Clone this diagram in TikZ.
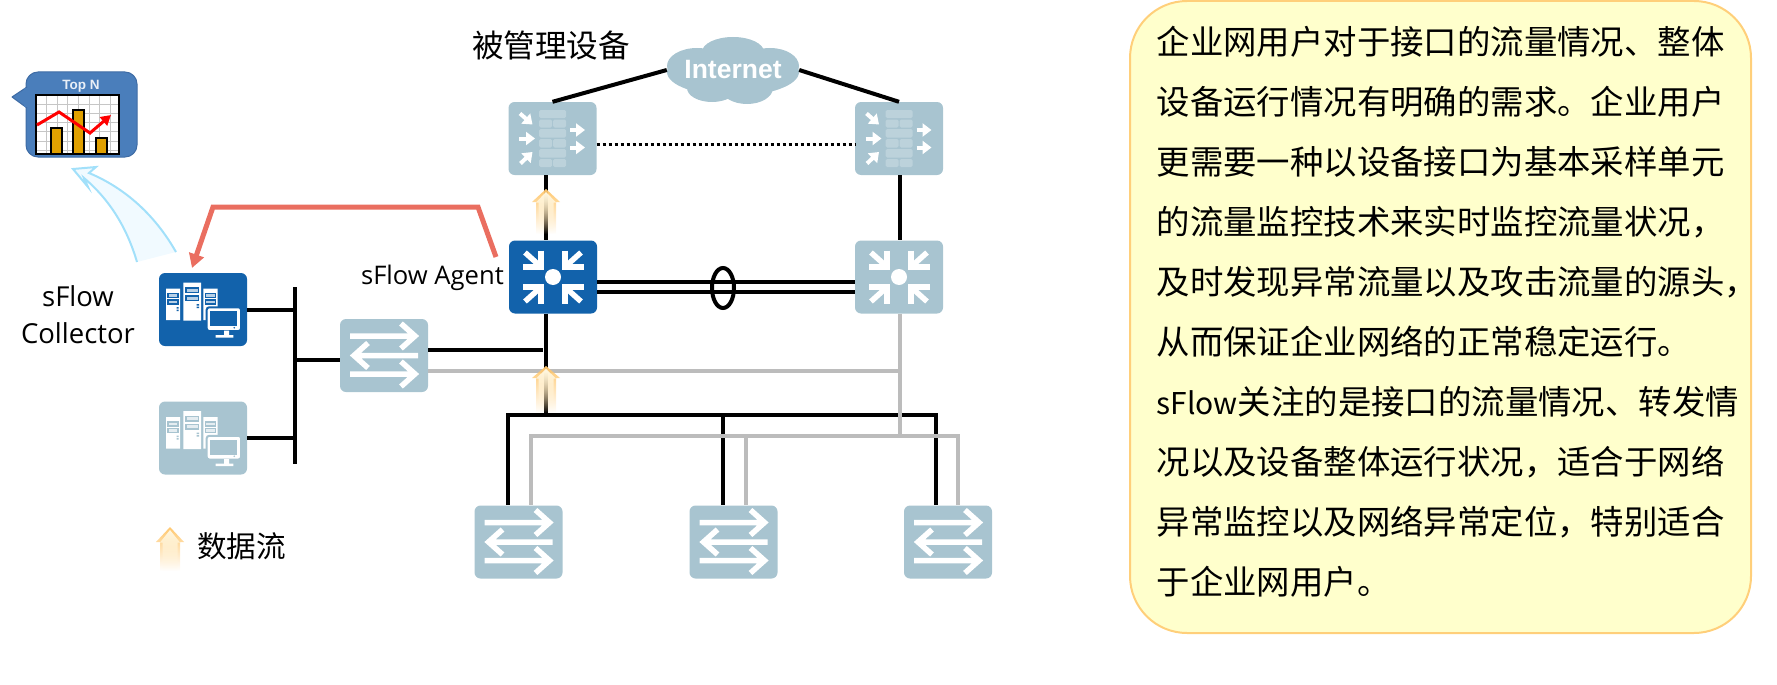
\documentclass[tikz,border=0pt]{standalone}
\usepackage{fontspec}
\setmainfont{Open Sans}
\newfontfamily\cjk{Noto Sans CJK SC}
\newfontfamily\arialb{Liberation Sans Bold}
\usetikzlibrary{arrows.meta,fadings,calc}
\definecolor{steel}{HTML}{A8C4D0}
\definecolor{brick}{HTML}{BCD2DB}
\definecolor{agentblue}{HTML}{1262AB}
\definecolor{linegray}{HTML}{BCBCBC}
\definecolor{redline}{HTML}{EA6E60}
\definecolor{skyline}{HTML}{A2E0FA}
\definecolor{skyfill}{HTML}{F1FAFF}
\definecolor{notefill}{HTML}{FFFFCC}
\definecolor{noteline}{HTML}{FFCF7A}
\definecolor{flowline}{HTML}{FFC870}
\definecolor{flowfill}{HTML}{FFF8E2}
\definecolor{bubble}{HTML}{4A7EBB}
\definecolor{bubbleline}{HTML}{3F6CA5}
\definecolor{bargold}{HTML}{E0A000}
\tikzfading[name=flowfade,top color=transparent!0,bottom color=transparent!100]
\tikzset{
  device/.style={rectangle,rounded corners=6pt,minimum width=88pt,minimum height=73pt,inner sep=0pt,fill=steel},
  agentdev/.style={device,fill=agentblue},
  blk/.style={draw=black,line width=4pt},
  gry/.style={draw=linegray,line width=3.5pt},
  iconline/.style={draw=white,line width=5.5pt,miter limit=10},
  fwarrow/.style={draw=white,line width=4pt,-{Triangle[width=13pt,length=9pt]}},
  labeltext/.style={inner sep=0pt,font=\fontsize{25.6}{30}\selectfont},
  cjktext/.style={inner sep=0pt,font=\cjk\fontsize{31.6}{34}\selectfont},
}
\newcommand{\swicon}[1]{\begin{scope}[shift={(#1.center)}]
  \draw[iconline] (-34,-19.5)--(31,-19.5) (17,-32)--(31,-19.5)--(17,-7);
  \draw[iconline] (34,0)--(-30,0) (-16,-12.5)--(-30,0)--(-16,12.5);
  \draw[iconline] (-34,18.5)--(31,18.5) (17,6)--(31,18.5)--(17,31);
\end{scope}}
\newcommand{\rticon}[1]{\begin{scope}[shift={(#1.center)}]
  \fill[white] (0,0) circle (8);
  \foreach \sx/\sy in {1/1,-1/1,1/-1,-1/-1}{
    \draw[iconline,line width=5.5pt] (\sx*12,\sy*26.5)--(\sx*12,\sy*10)--(\sx*30.5,\sy*10);
    \draw[iconline,line width=5.5pt] (\sx*28,\sy*24.5)--(\sx*13,\sy*11);
  }
\end{scope}}
\newcommand{\fwicon}[1]{\begin{scope}[shift={(#1.center)}]
  \fill[brick,rounded corners=1.5pt]
    (-13.5,-28.5) rectangle (13.5,-20.5)
    (-13.5,-19) rectangle (-0.5,-11) (0.5,-19) rectangle (13.5,-11)
    (-13.5,-9.5) rectangle (13.5,-1)
    (-13.5,0.5) rectangle (-0.5,9) (0.5,0.5) rectangle (13.5,9)
    (-13.5,10.5) rectangle (13.5,19)
    (-13.5,20.5) rectangle (-0.5,28.5) (0.5,20.5) rectangle (13.5,28.5);
  \draw[fwarrow] (-32.5,-25)--(-20,-14);
  \draw[fwarrow] (-33.5,0)--(-17.5,0);
  \draw[fwarrow] (-32,25)--(-20,13.5);
  \draw[fwarrow] (17.5,-8.5)--(32.5,-8.5);
  \draw[fwarrow] (17.5,9)--(32.5,9);
\end{scope}}
\newcommand{\srvicon}[2]{\begin{scope}[shift={(#1.center)}]
  \fill[white] (-37,-21) rectangle (-23,10.5) (-19.7,-27) rectangle (-2,11) (0.3,-21) rectangle (14.7,10.5);
  \draw[#2,line width=1.2pt,fill=white!70!#2]
    (-35,-16) rectangle (-25,-12) (-35,-9.5) rectangle (-25,-5.5)
    (-17,-21.5) rectangle (-4.5,-17) (-17,-13.5) rectangle (-4.5,-9)
    (2.5,-16) rectangle (12.5,-12) (2.5,-9.5) rectangle (12.5,-5.5);
  \fill[#2] (-26.5,-2.5) rectangle (-24.5,-1) (-26.5,0) rectangle (-24.5,1.5)
    (-6.5,-5.5) rectangle (-4,-4) (-6.5,-3) rectangle (-4,-1.5)
    (12,-2.5) rectangle (14,-1) (12,0) rectangle (14,1.5);
  \draw[#2,line width=2pt,fill=white,rounded corners=2.5pt] (3.7,-2.2) rectangle (38,21.5);
  \fill[#2] (7.3,1.8) rectangle (34.3,16.5);
  \fill[white] (21,21) rectangle (26,26) (12.7,25.5) rectangle (30.3,28.2);
  \fill[#2] (31.3,18.2) circle (0.9);
\end{scope}}
\newcommand{\flowarrow}[4]{% x, tip, head base, bottom
  \fill[flowline,path fading=flowfade] (#1,#2)--(#1+14,#3)--(#1+10,#3)--(#1+10,#4)--(#1-10,#4)--(#1-10,#3)--(#1-14,#3)--cycle;
  \fill[flowfill,path fading=flowfade] (#1,#2+3)--(#1+10,#3+0.5)--(#1+7.5,#3+0.5)--(#1+7.5,#4)--(#1-7.5,#4)--(#1-7.5,#3+0.5)--(#1-10,#3+0.5)--cycle;
}
\begin{document}
\begin{tikzpicture}[x=1pt,y=-1pt]
\useasboundingbox (0,0) rectangle (1777,685);

% devices
\node[device] (fw1) at (552.5,138.5) {};
\node[device] (fw2) at (899,138.5) {};
\node[agentdev] (core1) at (553,277) {};
\node[device] (core2) at (899,277) {};
\node[device] (sw0) at (384,355.5) {};
\node[device] (sw1) at (518.5,542) {};
\node[device] (sw2) at (733.5,542) {};
\node[device] (sw3) at (948,542) {};
\node[agentdev] (srv1) at (203,309.5) {};
\node[device] (srv2) at (203,438) {};

% cloud
\fill[steel] (733,72) ellipse (66 and 24) (733,52) ellipse (31 and 15)
  (697,66) ellipse (30 and 18) (770,66) ellipse (29 and 18)
  (712,88) ellipse (25 and 14) (747,88) ellipse (26 and 16);
\node[minimum width=132pt,minimum height=48pt,inner sep=0pt,text=white,font=\arialb\fontsize{26.5}{30}\selectfont] (inet) at (733,70) {Internet};

% anchor coordinates
\coordinate (fwdown1) at (546,0);
\coordinate (rightx) at (900,0);
\coordinate (busT) at (295,287);
\coordinate (busB) at (295,464);
\coordinate (busJ) at (295,360);
\coordinate (agentIn) at (543,350);
\coordinate (grayJ) at (900,371);
\coordinate (grayB) at (900,436);
\coordinate (treeL) at (508,415);
\coordinate (treeM) at (723,415);
\coordinate (treeR) at (936,415);
\coordinate (grayL) at (531,436);
\coordinate (grayM) at (746,436);
\coordinate (grayR) at (958,436);
\coordinate (trunkA) at (0,282);
\coordinate (trunkB) at (0,292);
\coordinate (ringC) at (723,288);
\coordinate (hbY) at (0,144);

% black links
\draw[blk] (inet.west)--(fw1.north);
\draw[blk] (inet.east)--(fw2.north);
\draw[draw=black,line width=3pt,dash pattern=on 3pt off 3pt] (fw1.east |- hbY)--(fw2.west |- hbY);
\draw[blk] (fwdown1 |- fw1.south)--(fwdown1 |- core1.north);
\draw[blk] (rightx |- fw2.south)--(rightx |- core2.north);
\draw[blk,line width=4.5pt] (core1.east |- trunkA)--(core2.west |- trunkA);
\draw[blk,line width=4.5pt] (core1.east |- trunkB)--(core2.west |- trunkB);
\draw[draw=black,line width=4pt] (ringC) ellipse (11 and 20);
\draw[blk] (busT)--(busB);
\draw[blk] (srv1.east)--(busT |- srv1.east);
\draw[blk] (srv2.east)--(busT |- srv2.east);
\draw[blk] (busJ)--(busJ -| sw0.west);
\draw[blk] (agentIn -| sw0.east)--(agentIn);
\draw[blk] (fwdown1 |- core1.south)--(fwdown1 |- treeL);
\draw[blk,line cap=rect] (treeL)--(treeR);
\draw[blk] (treeL)--(treeL |- sw1.north);
\draw[blk] (treeM)--(treeM |- sw2.north);
\draw[blk] (treeR)--(treeR |- sw3.north);

% gray links
\draw[gry] (grayJ -| sw0.east)--(grayJ);
\draw[gry] (rightx |- core2.south)--(grayB);
\draw[gry,line cap=rect] (grayL)--(grayR);
\draw[gry] (grayL)--(grayL |- sw1.north);
\draw[gry] (grayM)--(grayM |- sw2.north);
\draw[gry] (grayR)--(grayR |- sw3.north);

% icons
\fwicon{fw1}\fwicon{fw2}
\rticon{core1}\rticon{core2}
\swicon{sw0}\swicon{sw1}\swicon{sw2}\swicon{sw3}
\srvicon{srv1}{agentblue}\srvicon{srv2}{steel}

% data-flow arrows
\flowarrow{546}{189}{202}{234}
\flowarrow{546}{366}{378}{413}
\flowarrow{170}{527}{542}{571}

% Top N bubble
\fill[bubble,draw=bubbleline,line width=1pt,rounded corners=12pt] (26,72) rectangle (137,157);
\fill[bubble,draw=bubbleline,line width=1pt,line join=round] (27,87)--(12,97)--(27,108);
\fill[bubble] (24,88) rectangle (30,107);
\node[text=white!88!bubble,inner sep=0pt,font=\arialb\fontsize{13.5}{14}\selectfont] (topn) at (81,86) {Top N};
\fill[white] (36,95) rectangle (119,154);
\foreach \gx in {46.6,57.2,67.8,78.4,89,99.6,110.2}{\draw[gray!45,line width=0.9pt] (\gx,95)--(\gx,154);}
\foreach \gy in {104.2,113.4,122.6,131.8,141,150.2}{\draw[gray!45,line width=0.9pt] (36,\gy)--(119,\gy);}
\foreach \bx/\bw/\by in {51/62/128,73/84/110,96/107/138}{\filldraw[fill=bargold,draw=black,line width=1.2pt] (\bx,\by) rectangle (\bw,154);}
\draw[black,line width=1.5pt] (36,95) rectangle (119,154);
\draw[red,line width=3pt,-{Triangle[width=11pt,length=10pt]}] (37,125)--(59,112)--(90,133)--(111,115);

% sky-blue arrow
\fill[skyfill] (137,262) .. controls (127,228) and (110,200) .. (84,178)--(88,187)--(73,169)--(96,167)--(89,173) .. controls (125,188) and (155,215) .. (176,252)--cycle;
\draw[skyline,line width=2pt] (137,262) .. controls (127,228) and (110,200) .. (84,178)--(88,187)--(73,169)--(96,167)--(89,173) .. controls (125,188) and (155,215) .. (176,252);

% red arrow
\coordinate (redS) at (496,257);
\coordinate (redB) at (478,207);
\coordinate (redC) at (213,207);
\coordinate (redT) at (192,268);
\draw[draw=redline,line width=5pt,-{Triangle[width=15pt,length=14pt]}] (redS)--(redB)--(redC)--(redT);

% labels
\node[cjktext,anchor=center] (mgd) at (551,45) {被管理设备};
\node[labeltext,anchor=east] (agent) at (504,278) {sFlow Agent};
\node[labeltext,align=center,font=\fontsize{27.5}{37}\selectfont] (coll) at (78,315) {sFlow\\Collector};
\node[cjktext,anchor=west,font=\cjk\fontsize{29.6}{32}\selectfont] (legend) at (197,546) {数据流};

% note
\node[draw=noteline,fill=notefill,line width=2pt,rounded corners=57pt,minimum width=621pt,minimum height=632pt,inner sep=0pt] (note) at (1440.5,317) {};
\node[anchor=north west,inner sep=0pt,align=left,font=\cjk\fontsize{33.4}{60}\selectfont] (notetext) at (1156.5,26) {%
企业网用户对于接口的流量情况、整体\\
设备运行情况有明确的需求。企业用户\\
更需要一种以设备接口为基本采样单元\\
的流量监控技术来实时监控流量状况，\\
及时发现异常流量以及攻击流量的源头，\\
从而保证企业网络的正常稳定运行。\\
{\fontsize{30}{60}\selectfont sFlow}关注的是接口的流量情况、转发情\\
况以及设备整体运行状况，适合于网络\\
异常监控以及网络异常定位，特别适合\\
于企业网用户。};
\end{tikzpicture}
\end{document}
